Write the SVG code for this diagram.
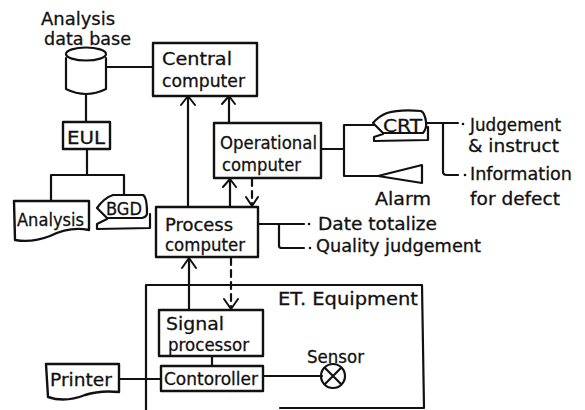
<svg xmlns="http://www.w3.org/2000/svg" width="585" height="410" viewBox="0 0 585 410">
<style>
.s{fill:none;stroke:#111;stroke-width:2.2;stroke-linejoin:round;stroke-linecap:round}
.b{fill:#fff;stroke:#111;stroke-width:2.4;stroke-linejoin:round}
.d{stroke-dasharray:7 5}
.a{fill:none;stroke:#111;stroke-width:2;stroke-linecap:round;stroke-linejoin:round}
.dot{fill:#111}
text{font-family:"DejaVu Sans",Verdana,sans-serif;fill:#111;stroke:#111;stroke-width:.3}
.l{font-size:18px}
.m{font-size:17px}
.n{font-size:16px}
</style>
<rect width="585" height="410" fill="#fff"/>
<g id="connectors">
<path class="s" d="M107 67H153M86 94V122M87 149V175M51 200V175H124V195"/>
<path class="s" d="M188 207V97M229 123V97M230 207V179M189 310V258"/>
<path class="s d" d="M252 179V204M231 258V308"/>
<path class="a" d="M181 105L188 96L195 105M222 104L229 96L235 104M223 187L230 179L236 187M246 197L252 206L258 197M182 268L189 258L196 268M224 299L231 309L238 299"/>
<path class="s" d="M322 149H344M374 125H344V176H378M426 123H458M443 123V172Q443 175 447 175H458"/>
<path class="s" d="M258 224H304M279 224V246Q279 248 282 248H304"/>
<path class="s" d="M212 356V366M119 379H161M263 376H322"/>
<circle class="dot" cx="463" cy="124" r="1.3"/><circle class="dot" cx="465" cy="175" r="1.3"/>
<circle class="dot" cx="309" cy="224" r="1.3"/><circle class="dot" cx="310" cy="248" r="1.3"/>
</g>
<g id="et-equipment">
<path class="s" d="M146 410V285H422L424 408H280"/>
<text class="l" x="278" y="305" textLength="140" lengthAdjust="spacingAndGlyphs">ET. Equipment</text>
</g>
<g id="analysis-database">
<path class="s" d="M66 58V89Q86 99 106 89V58"/>
<ellipse class="s" cx="86" cy="54" rx="20" ry="6.5"/>
<text class="l" x="41" y="25" textLength="74" lengthAdjust="spacingAndGlyphs">Analysis</text>
<text class="l" x="44" y="45" textLength="87" lengthAdjust="spacingAndGlyphs">data base</text>
</g>
<g id="central"><rect class="b" x="153" y="43" width="104" height="53"/>
<text class="l" x="162" y="65" textLength="70" lengthAdjust="spacingAndGlyphs">Central</text>
<text class="l" x="162" y="87" textLength="83" lengthAdjust="spacingAndGlyphs">computer</text></g>
<g id="eul"><rect class="b" x="63" y="122" width="47" height="27"/>
<text class="l" x="67" y="144" textLength="38" lengthAdjust="spacingAndGlyphs">EUL</text></g>
<g id="analysis"><path class="b" d="M14 201H89V230Q70 226 50 236Q32 243 15 240Z"/>
<text class="m" x="17" y="226" textLength="67" lengthAdjust="spacingAndGlyphs">Analysis</text></g>
<g id="bgd"><path class="s" d="M107 218H142Q147 217 147 213Q147 197 143 195H113Q104 198 97 208ZM107 219L97 224V229L150 228V214"/>
<text class="m" x="106" y="215" textLength="36" lengthAdjust="spacingAndGlyphs">BGD</text></g>
<g id="operational"><rect class="b" x="214" y="123" width="107" height="55"/>
<text class="l" x="220" y="149" textLength="97" lengthAdjust="spacingAndGlyphs">Operational</text>
<text class="l" x="222" y="171" textLength="79" lengthAdjust="spacingAndGlyphs">computer</text></g>
<g id="crt"><path class="s" d="M383 133H423Q427 128 426 122Q425 113 421 111Q400 109 387 113Q379 116 373 123ZM383 134L374 137V141L428 140V127"/>
<text class="l" x="383" y="132" textLength="39" lengthAdjust="spacingAndGlyphs">CRT</text></g>
<g id="alarm"><path class="s" d="M378 176L422 165V183Z"/>
<text class="l" x="375" y="205" textLength="56" lengthAdjust="spacingAndGlyphs">Alarm</text></g>
<g id="outputs">
<text class="m" x="470" y="131" textLength="91" lengthAdjust="spacingAndGlyphs">Judgement</text>
<text class="m" x="468" y="152" textLength="91" lengthAdjust="spacingAndGlyphs">&amp; instruct</text>
<text class="m" x="470" y="180" textLength="102" lengthAdjust="spacingAndGlyphs">Information</text>
<text class="m" x="470" y="205" textLength="90" lengthAdjust="spacingAndGlyphs">for defect</text>
<text class="m" x="318" y="230" textLength="119" lengthAdjust="spacingAndGlyphs">Date totalize</text>
<text class="m" x="316" y="252" textLength="165" lengthAdjust="spacingAndGlyphs">Quality judgement</text>
</g>
<g id="process"><rect class="b" x="156" y="207" width="102" height="50"/>
<text class="m" x="165" y="231" textLength="68" lengthAdjust="spacingAndGlyphs">Process</text>
<text class="m" x="165" y="251" textLength="80" lengthAdjust="spacingAndGlyphs">computer</text></g>
<g id="signal"><rect class="b" x="159" y="310" width="104" height="46"/>
<text class="l" x="166" y="330" textLength="58" lengthAdjust="spacingAndGlyphs">Signal</text>
<text class="l" x="168" y="351" textLength="81" lengthAdjust="spacingAndGlyphs">processor</text></g>
<g id="controller"><rect class="b" x="161" y="366" width="102" height="25"/>
<text class="l" x="164" y="385" textLength="94" lengthAdjust="spacingAndGlyphs">Contoroller</text></g>
<g id="printer"><path class="b" d="M46 364H119V392Q100 390 85 395Q65 403 48 397Z"/>
<text class="l" x="50" y="386" textLength="62" lengthAdjust="spacingAndGlyphs">Printer</text></g>
<g id="sensor"><circle class="s" cx="333" cy="376" r="12"/><path class="s" d="M325 368L341 384M341 368L325 384"/>
<text class="m" x="307" y="363" textLength="57" lengthAdjust="spacingAndGlyphs">Sensor</text></g>
</svg>
